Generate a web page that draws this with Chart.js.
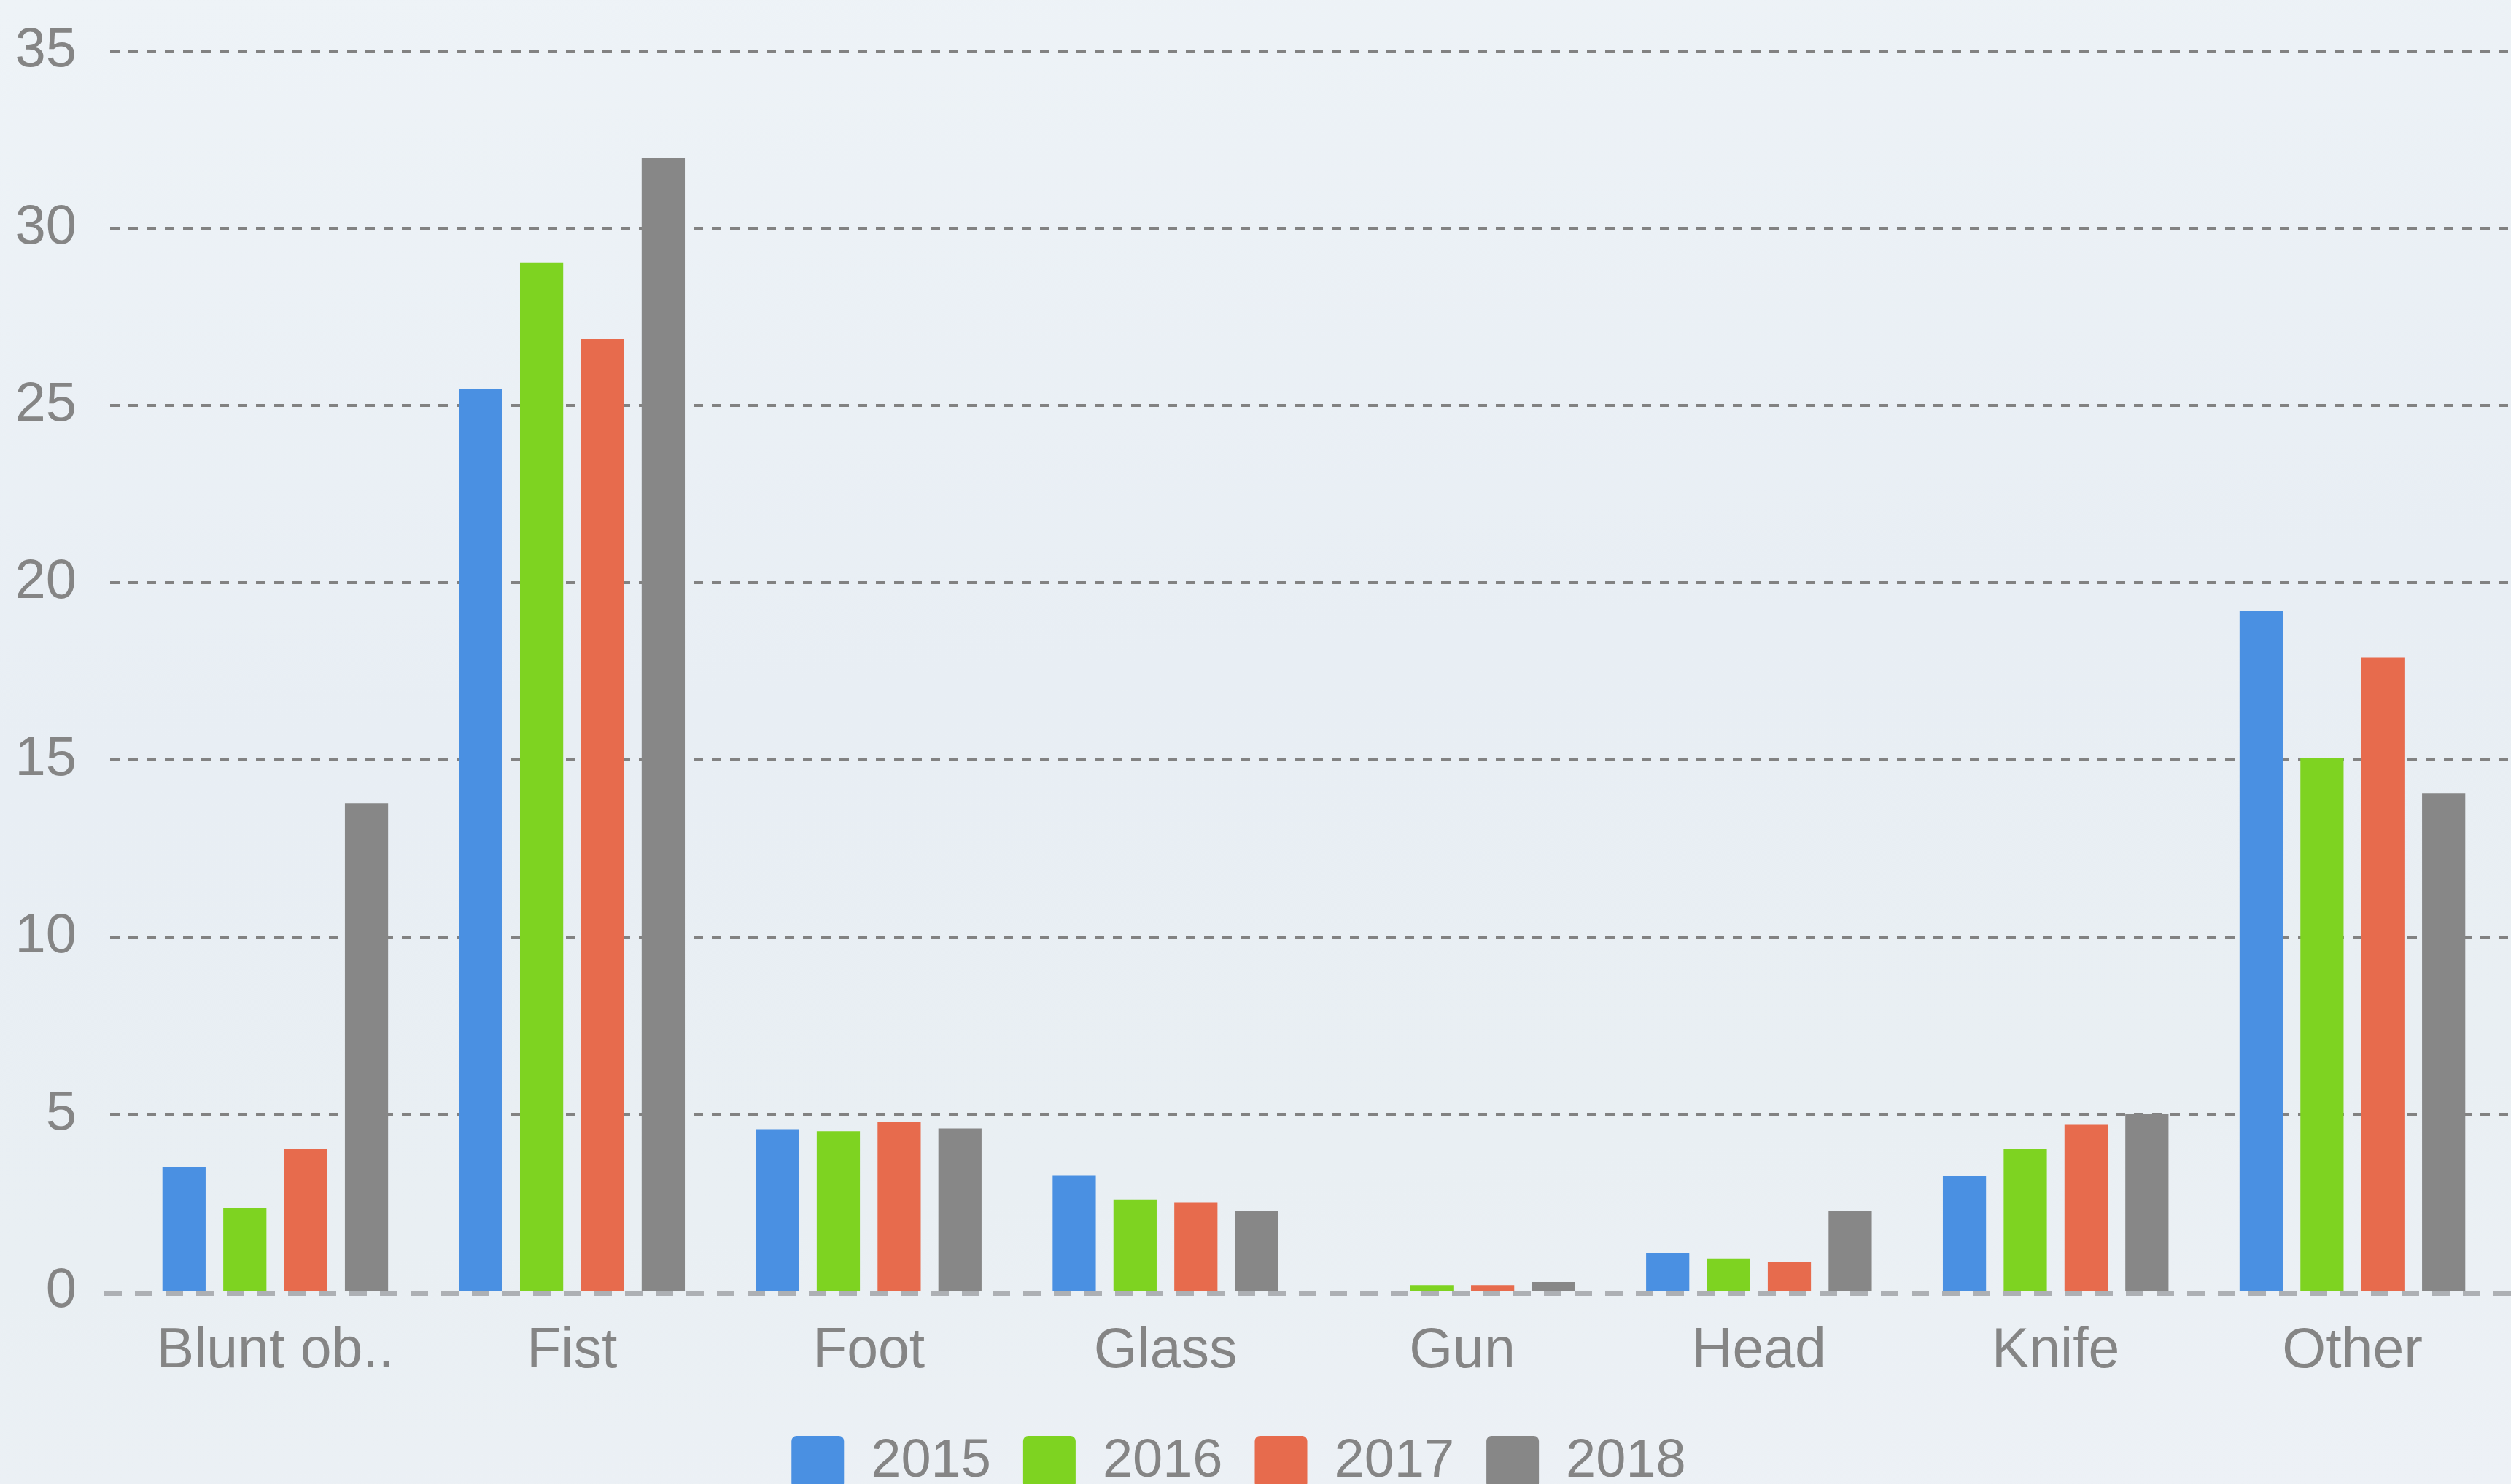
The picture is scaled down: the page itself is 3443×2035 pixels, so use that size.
<!DOCTYPE html>
<html>
<head>
<meta charset="utf-8">
<script src="https://cdn.jsdelivr.net/npm/chart.js@4.4.0/dist/chart.umd.min.js"></script>
<style>
html,body{margin:0;padding:0;width:3443px;height:2035px;overflow:hidden;}
body{background:linear-gradient(175deg,#eef3f7 0%,#e8eef4 45%,#e9eff3 75%,#edf1f6 100%);}
#wrap{position:absolute;left:0;top:0;width:3443px;height:2052px;}
</style>
</head>
<body>
<div id="wrap"><canvas id="c"></canvas></div>
<script>
const categories = ["Blunt ob..", "Fist", "Foot", "Glass", "Gun", "Head", "Knife", "Other"];
const seriesNames = ["2015", "2016", "2017", "2018"];
const values2015 = [3.52, 25.47, 4.58, 3.28, 0, 1.09, 3.27, 19.2];
const values2016 = [2.35, 29.04, 4.52, 2.6, 0.18, 0.93, 4.02, 15.05];
const values2017 = [4.02, 26.87, 4.79, 2.52, 0.18, 0.84, 4.7, 17.89];
const values2018 = [13.78, 31.98, 4.6, 2.28, 0.27, 2.28, 5.02, 14.05];
const yTicks = [0, 5, 10, 15, 20, 25, 30, 35];
const colors = ["#4a90e2", "#7ed321", "#e76b4d", "#878787"];

const textColor = "#858585";
const fam = "'Liberation Sans', Arial, sans-serif";

const gridPlugin = {
  id: 'dashGrid',
  beforeDatasetsDraw(chart) {
    const ctx = chart.ctx;
    const y = chart.scales.y;
    ctx.save();
    yTicks.forEach(v => {
      const py = Math.round(y.getPixelForValue(v));
      ctx.beginPath();
      if (v === 0) {
        ctx.strokeStyle = '#adb0b4';
        ctx.lineWidth = 6;
        ctx.setLineDash([24, 18]);
        ctx.moveTo(143, py + 3);
        ctx.lineTo(chart.width, py + 3);
      } else {
        ctx.strokeStyle = '#828282';
        ctx.lineWidth = 4;
        ctx.setLineDash([13, 12]);
        ctx.moveTo(151, py);
        ctx.lineTo(chart.width, py);
      }
      ctx.stroke();
    });
    ctx.restore();
  },
  afterLayout(chart) {
    if (chart.legend) { chart.legend.left -= 16; chart.legend.right -= 16; }
  }
};

new Chart(document.getElementById('c'), {
  type: 'bar',
  data: {
    labels: categories,
    datasets: [values2015, values2016, values2017, values2018].map((d, i) => ({
      label: seriesNames[i],
      data: d,
      backgroundColor: colors[i],
      borderWidth: 0,
      categoryPercentage: 0.82,
      barPercentage: 0.71
    }))
  },
  options: {
    responsive: true,
    maintainAspectRatio: false,
    animation: false,
    events: [],
    layout: {padding: {left: 0, right: 14, top: 70, bottom: 0}},
    scales: {
      x: {
        grid: {display: false, drawTicks: false},
        border: {display: false},
        ticks: {color: textColor, font: {family: fam, size: 77}, padding: 37, maxRotation: 0, autoSkip: false},
        afterFit(s) { s.height = 153; }
      },
      y: {
        min: 0, max: 35,
        grid: {display: false, drawTicks: false},
        border: {display: false},
        ticks: {color: textColor, font: {family: fam, size: 76}, padding: 69, stepSize: 5},
        afterFit(s) { s.width = 174; s.paddingTop = 0; s.paddingBottom = 0; }
      }
    },
    plugins: {
      tooltip: {enabled: false},
      legend: {
        position: 'bottom',
        labels: {
          color: textColor, font: {family: fam, size: 74},
          boxWidth: 72, boxHeight: 72, padding: 44,
          useBorderRadius: true, borderRadius: 7
        }
      }
    }
  },
  plugins: [gridPlugin]
});
</script>
</body>
</html>
